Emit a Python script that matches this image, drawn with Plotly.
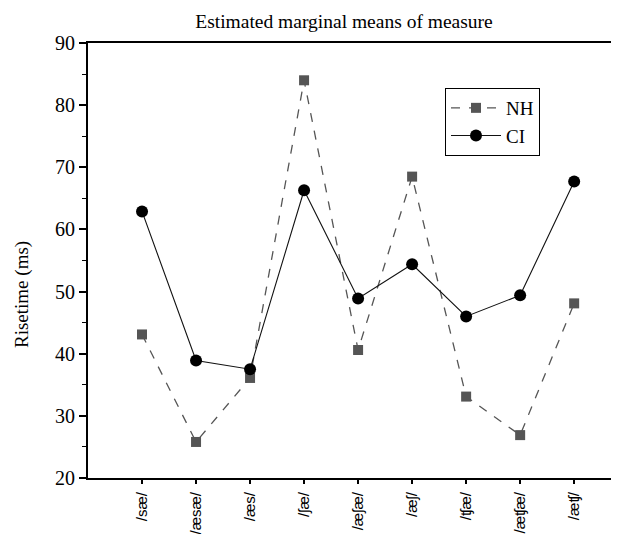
import plotly.graph_objects as go

categories = ["/sæ/", "/æsæ/", "/æs/", "/ʃæ/", "/æʃæ/", "/æʃ/", "/ʧæ/", "/æʧæ/", "/æʧ/"]
nh_values = [43.1, 25.8, 36.1, 84.0, 40.6, 68.5, 33.1, 26.9, 48.1]
ci_values = [62.9, 38.9, 37.5, 66.3, 48.9, 54.4, 46.0, 49.4, 67.7]
y_ticks = [20, 30, 40, 50, 60, 70, 80, 90]

serif = "Times New Roman, Liberation Serif, serif"
sans = "Arial, Liberation Sans, DejaVu Sans, sans-serif"

# page body has an 8px margin, so figure coords = reference coords - 8
OFF = 8
W, H = 619 - OFF, 534 - OFF
L, T = 88 - OFF, 43 - OFF
R, B = 0, H - (478 - OFF)
pw, ph = W - L - R, H - T - B

fig = go.Figure()
fig.add_trace(go.Scatter(
    x=categories, y=nh_values, name="NH", mode="lines+markers",
    line=dict(color="#555555", width=1.3, dash="dash"),
    marker=dict(symbol="square", size=10, color="#555555"),
))
fig.add_trace(go.Scatter(
    x=categories, y=ci_values, name="CI", mode="lines+markers",
    line=dict(color="#111111", width=1.1),
    marker=dict(symbol="circle", size=12, color="black"),
))

fig.update_layout(
    width=W, height=H,
    margin=dict(l=L, r=R, t=T, b=B, autoexpand=False),
    paper_bgcolor="white", plot_bgcolor="white",
    font=dict(family=serif, color="black", size=19),
    title=dict(text="Estimated marginal means of measure", x=(344 - OFF) / W, y=1 - (21 - OFF) / H,
               xref="container", yref="container", xanchor="center", yanchor="middle",
               font=dict(family=serif, size=19.5, color="black")),
    showlegend=True,
    legend=dict(x=(445 - 88) / pw, y=(478 - 88) / ph, xanchor="left", yanchor="top",
                bordercolor="black", borderwidth=1, bgcolor="white", itemwidth=50,
                font=dict(family=serif, size=19, color="black")),
    annotations=[dict(text="Risetime (ms)", x=(22 - 88) / pw, y=(478 - 295) / ph,
                      xref="paper", yref="paper", xanchor="center", yanchor="middle",
                      showarrow=False, textangle=-90,
                      font=dict(family=serif, size=19, color="black"))],
)

fig.update_xaxes(
    type="category", categoryorder="array", categoryarray=categories,
    range=[-1.0, 8.83], automargin=False,
    showline=True, linecolor="black", linewidth=2, mirror=True,
    showgrid=False, zeroline=False,
    ticks="outside", ticklen=4, tickcolor="black", tickwidth=1.5,
    tickangle=-90, ticklabelstandoff=2,
    tickfont=dict(family=sans, size=15, color="black"),
)
fig.update_yaxes(
    range=[20, 90], tickvals=y_ticks, automargin=False,
    showline=True, linecolor="black", linewidth=2,
    showgrid=False, zeroline=False,
    ticks="outside", ticklen=7, tickcolor="black", tickwidth=1.5,
    minor=dict(dtick=5, ticks="outside", ticklen=4, tickcolor="black", tickwidth=1.2),
    tickfont=dict(family=serif, size=20, color="black"),
)

fig.write_html("out.html")
